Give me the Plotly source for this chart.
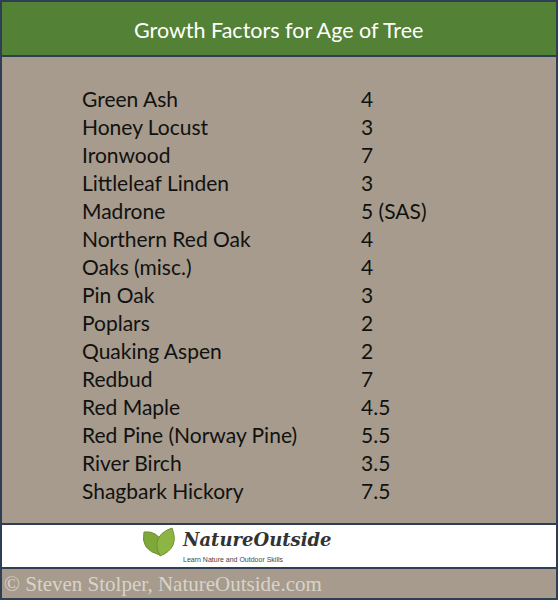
import plotly.graph_objects as go

trees = ["Green Ash", "Honey Locust", "Ironwood", "Littleleaf Linden", "Madrone",
         "Northern Red Oak", "Oaks (misc.)", "Pin Oak", "Poplars", "Quaking Aspen",
         "Redbud", "Red Maple", "Red Pine (Norway Pine)", "River Birch", "Shagbark Hickory"]
factors = ["4", "3", "7", "3", "5 (SAS)", "4", "4", "3", "2", "2", "7", "4.5", "5.5", "3.5", "7.5"]

title = "Growth Factors for Age of Tree"
credit = "© Steven Stolper, NatureOutside.com"

W, H = 558, 600
border = "#2e3f55"

fig = go.Figure()
rows = list(range(len(trees)))
fig.add_trace(go.Scatter(x=[82] * len(trees), y=rows, text=trees, mode="text",
                         textposition="middle right", xaxis="x2", yaxis="y2",
                         textfont=dict(family="Lato", size=21, color="#111")))
fig.add_trace(go.Scatter(x=[361] * len(factors), y=rows, text=factors, mode="text",
                         textposition="middle right", xaxis="x2", yaxis="y2",
                         textfont=dict(family="Lato", size=21, color="#111")))

def rect(x0, y0, x1, y1, fill, line=border, lw=2):
    fig.add_shape(type="rect", x0=x0, y0=y0, x1=x1, y1=y1, xref="x", yref="y",
                  fillcolor=fill, line=dict(color=line, width=lw), layer="below")

rect(1, 1, W - 1, 56, "#538135")
rect(1, 56, W - 1, 524, "#a69b8c")
rect(1, 524, W - 1, 568, "#ffffff")
rect(1, 568, W - 1, 599, "#a69b8c")

# leaf logo
fig.add_shape(type="path", path="M 160 555 Q 140 550 144 532 Q 158 530 164 546 Z",
              fillcolor="#7fa83a", line=dict(color="#6b9230", width=1), xref="x", yref="y")
fig.add_shape(type="path", path="M 160 556 Q 150 536 172 528 Q 180 548 160 556 Z",
              fillcolor="#8cb543", line=dict(color="#6b9230", width=1), xref="x", yref="y")

fig.add_annotation(x=W / 2 - 1, y=30, text=title, showarrow=False, xref="x", yref="y",
                   font=dict(family="Lato", size=21.5, color="white"))
fig.add_annotation(x=180, y=539, text="<b><i>NatureOutside</i></b>", showarrow=False,
                   xref="x", yref="y", xanchor="left",
                   font=dict(family="DejaVu Serif", size=18, color="#333"))
fig.add_annotation(x=181, y=559, text="Learn Nature and Outdoor Skills", showarrow=False,
                   xref="x", yref="y", xanchor="left",
                   font=dict(family="Liberation Sans", size=7, color="#444"))
fig.add_annotation(x=2, y=584, text=credit, showarrow=False, xref="x", yref="y",
                   xanchor="left", font=dict(family="Liberation Serif", size=21, color="#d9d3ca"))

fig.update_layout(
    width=W, height=H, margin=dict(l=0, r=0, t=0, b=0), showlegend=False,
    paper_bgcolor="#a69b8c", plot_bgcolor="rgba(0,0,0,0)",
    xaxis=dict(range=[0, W], visible=False, fixedrange=True),
    yaxis=dict(range=[H, 0], visible=False, fixedrange=True),
    xaxis2=dict(range=[0, W], visible=False, anchor="y2", fixedrange=True),
    yaxis2=dict(range=[14.5, -0.5], domain=[1 - 508 / H, 1 - 88 / H], visible=False,
                anchor="x2", fixedrange=True),
)
fig.write_html("out.html", config={"displayModeBar": False},
               post_script="document.body.style.margin='0';document.body.style.overflow='hidden';")
